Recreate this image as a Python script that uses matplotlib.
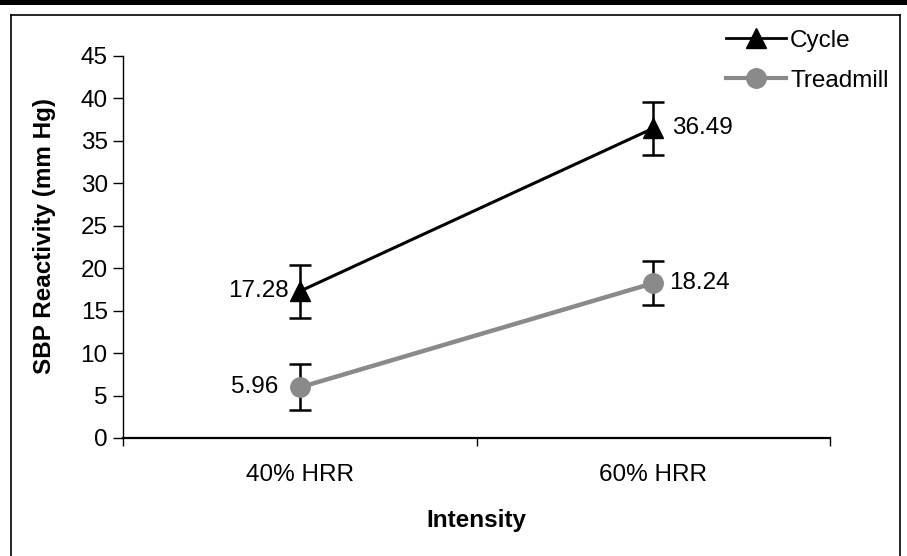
import matplotlib
matplotlib.use("Agg")
import matplotlib.pyplot as plt
from matplotlib.lines import Line2D
from matplotlib.patches import Rectangle

plt.rcParams['font.family'] = ['Liberation Sans', 'DejaVu Sans']

categories = ["40% HRR", "60% HRR"]
cycle = [17.28, 36.49]
cycle_err = [3.1, 3.1]
treadmill = [5.96, 18.24]
treadmill_err = [2.7, 2.6]
yticks = [0, 5, 10, 15, 20, 25, 30, 35, 40, 45]

fig = plt.figure(figsize=(9.07, 5.56), dpi=100)
ax = fig.add_axes([123/907, 1-438/556, (830-123)/907, (438-56)/556])

x = list(range(len(categories)))
gray = '#8a8a8a'
ax.errorbar(x, cycle, yerr=cycle_err, color='black', lw=2.2, marker='^', ms=14,
            ecolor='black', elinewidth=1.8, capsize=8, capthick=1.8, zorder=3, label='Cycle')
ax.errorbar(x, treadmill, yerr=treadmill_err, color=gray, lw=3.2, marker='o', ms=14,
            ecolor='black', elinewidth=1.8, capsize=8, capthick=1.8, zorder=3, label='Treadmill')

fs = 17.5
ax.annotate(f"{cycle[0]:.2f}", (x[0], cycle[0]), xytext=(-11, 0), textcoords='offset pixels',
            ha='right', va='center', fontsize=fs)
ax.annotate(f"{cycle[1]:.2f}", (x[1], cycle[1]), xytext=(19, 0), textcoords='offset pixels',
            ha='left', va='center', fontsize=fs)
ax.annotate(f"{treadmill[0]:.2f}", (x[0], treadmill[0]), xytext=(-21, 0), textcoords='offset pixels',
            ha='right', va='center', fontsize=fs)
ax.annotate(f"{treadmill[1]:.2f}", (x[1], treadmill[1]), xytext=(16, 0), textcoords='offset pixels',
            ha='left', va='center', fontsize=fs)

ax.set_xlim(-0.5, 1.5)
ax.set_ylim(0, 45)
ax.set_yticks(yticks)
ax.tick_params(axis='y', labelsize=fs, length=7, direction='out', width=1, pad=4)
ax.set_xticks(x)
ax.set_xticklabels(categories, fontsize=fs)
ax.tick_params(axis='x', which='major', length=0, pad=19)
ax.set_xticks([-0.5, 0.5, 1.5], minor=True)
ax.tick_params(axis='x', which='minor', length=6, direction='out', width=1)
for s in ['top', 'right']:
    ax.spines[s].set_visible(False)
ax.spines['left'].set_linewidth(1)
ax.spines['bottom'].set_linewidth(1.6)

ax.set_xlabel("Intensity", fontsize=fs, fontweight='bold', labelpad=16)
ax.set_ylabel("SBP Reactivity (mm Hg)", fontsize=fs, fontweight='bold')
ax.yaxis.set_label_coords(-0.095, 0.53)

handles = [Line2D([], [], color='black', lw=2, marker='^', ms=14),
           Line2D([], [], color=gray, lw=3, marker='o', ms=14)]
fig.legend(handles, ['Cycle', 'Treadmill'], loc='upper left',
           bbox_to_anchor=(716/907, 1-20/556), frameon=False, fontsize=fs,
           handlelength=2.5, handletextpad=0.15, labelspacing=0.75, borderaxespad=0)

# page decorations
fig.add_artist(Rectangle((0, 1-5/556), 1, 5/556, transform=fig.transFigure,
                         color='black', lw=0))
fig.add_artist(Line2D([11/907, 11/907], [0, 1-15/556], transform=fig.transFigure, color='black', lw=1.2))
fig.add_artist(Line2D([900/907, 900/907], [0, 1-15/556], transform=fig.transFigure, color='black', lw=1.2))
fig.add_artist(Line2D([11/907, 900/907], [1-15/556, 1-15/556], transform=fig.transFigure, color='black', lw=1.2))

fig.savefig("out.png", dpi=100)
